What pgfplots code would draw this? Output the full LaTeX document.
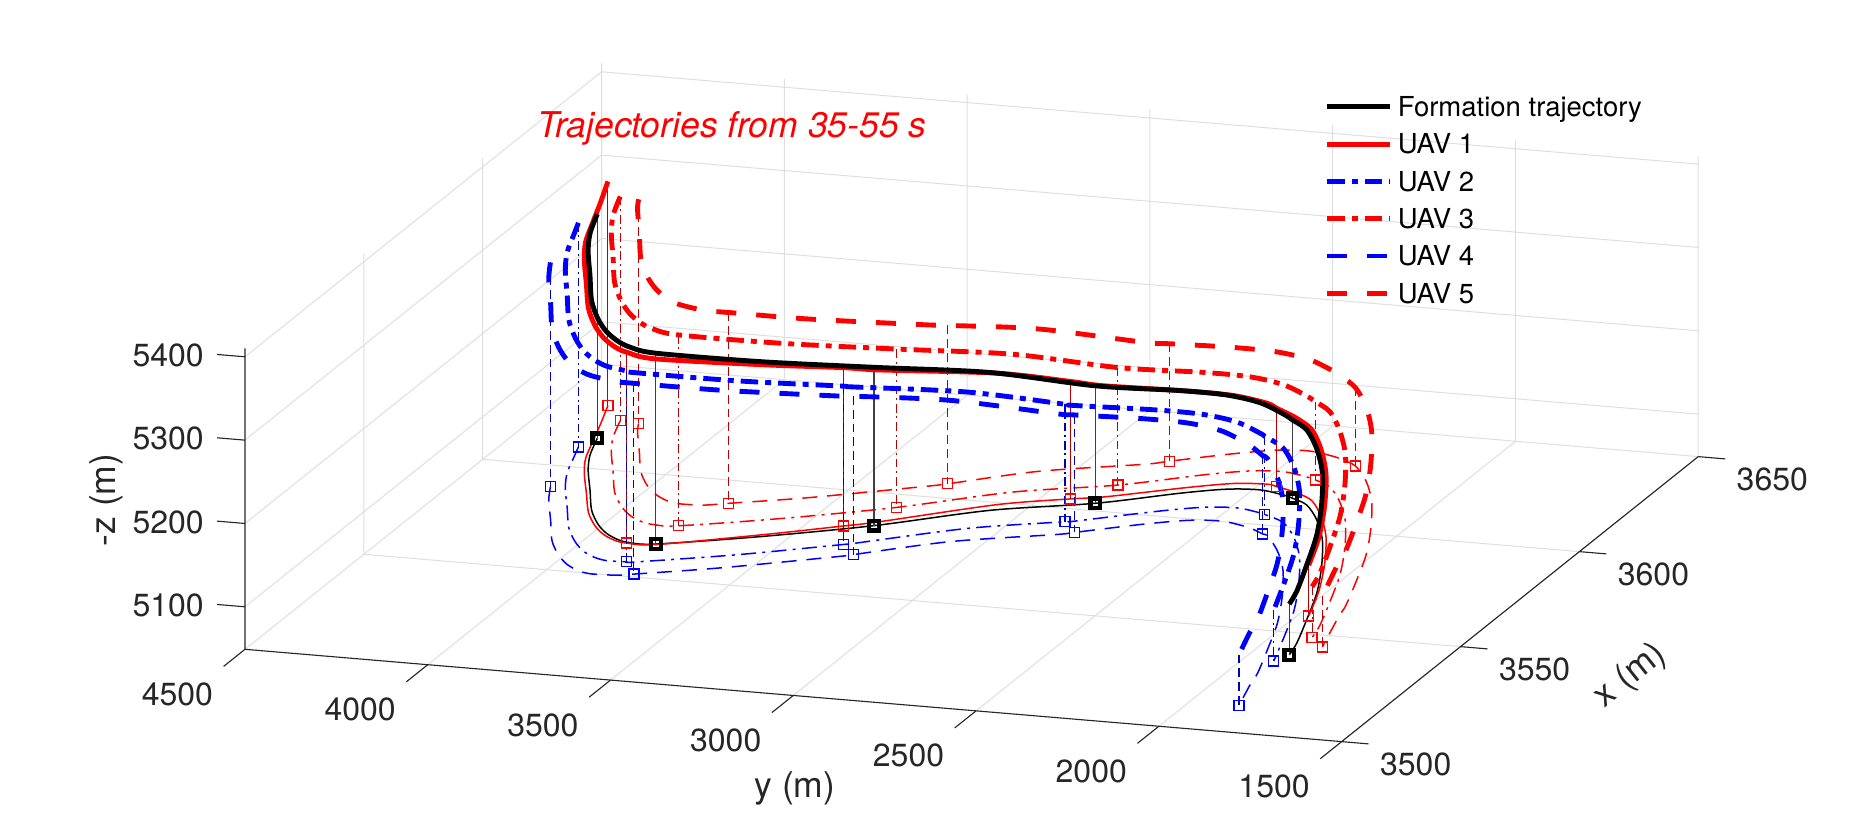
\documentclass[border=0pt]{standalone}
\usepackage{fontspec}
\setmainfont{TeX Gyre Heros}
\usepackage{pgfplots}
\usepackage{pgfplotstable}
\pgfplotsset{compat=1.18}
\usetikzlibrary{calc}
\definecolor{axcol}{rgb}{0.15,0.15,0.15}
\definecolor{gridcol}{rgb}{0.87,0.87,0.87}
\definecolor{dred}{rgb}{0.72,0,0}
\definecolor{dblue}{rgb}{0,0,0.72}
\newcommand{\tickfont}{\fontsize{12.8}{15}\selectfont}
\newcommand{\labfont}{\fontsize{14.2}{17}\selectfont}
\newcommand{\legfont}{\fontsize{11}{13}\selectfont}
\tikzset{
 thk/.style={line width=1.95pt,line join=round},
 dsh/.style={dash pattern=on 8pt off 8pt},
 dsd/.style={dash pattern=on 7pt off 2.8pt on 2.4pt off 2.8pt},
 thn/.style={line width=0.6pt,line join=round},
 tdsh/.style={dash pattern=on 6pt off 4pt},
 tdsd/.style={dash pattern=on 6pt off 2.5pt on 1.2pt off 2.5pt},
 drp/.style={line width=0.42pt},
 ddsh/.style={dash pattern=on 3.5pt off 2pt},
 ddsd/.style={dash pattern=on 3.5pt off 1.5pt on 0.8pt off 1.5pt},
 tlab/.style={inner sep=0pt,text=axcol,font=\tickfont},
}
% ---------- trajectories: x y z, and floor zf ----------
\pgfplotstableread{
x y z zf
3614.6 4281.5 5318 5049
3606.4 4247.9 5315.1 5049
3599.1 4205.7 5311.5 5049
3589.7 4139.5 5305.9 5049
3580.2 4073.4 5300.3 5049
3573.8 4014.5 5295.3 5049
3569.7 3964.1 5291.0 5049
3567.2 3917.0 5287.1 5049
3566.2 3877.4 5283.7 5049
3566.6 3808.9 5278 5049
3574.3 3574.2 5259.0 5049
3584.1 3326.2 5239 5049
3596.0 3087.5 5214.5 5049
3603.6 2847.9 5190 5049
3611.8 2669.3 5172.2 5049
3615.6 2566.1 5162.0 5049
3616.6 2481.5 5153.6 5049
3615.1 2408.4 5146.3 5049
3613.9 2374.9 5143 5049
3611.3 2319.5 5139.2 5049
3604.6 2248.3 5134.3 5049
3595.3 2172.5 5129.1 5049
3582.5 2091.4 5123.5 5049
3569.7 2021.4 5118.7 5049
3556.5 1963.4 5114.6 5049
3545.1 1916.1 5111.3 5049
3539.2 1898.2 5110 5049
}\tF
\pgfplotstableread{
x y z zf
3630.6 4356.5 5318 5049
3621.6 4318.0 5314.9 5049
3612.7 4282.0 5311.7 5049
3604.6 4248.3 5308.8 5049
3597.5 4205.9 5305.2 5049
3588.2 4139.7 5299.6 5049
3578.9 4073.5 5294.0 5049
3572.7 4014.6 5289.0 5049
3568.8 3964.1 5284.7 5049
3566.5 3917.0 5280.8 5049
3565.9 3883.9 5278 5049
3566.3 3808.9 5271.9 5049
3575.3 3574.2 5253.0 5049
3582.7 3401.1 5239 5049
3586.1 3326.2 5231.3 5049
3599.0 3087.5 5206.8 5049
3604.7 2922.9 5190 5049
3606.9 2847.9 5182.6 5049
3614.8 2669.3 5164.8 5049
3618.6 2566.1 5154.5 5049
3619.6 2481.5 5146.1 5049
3618.8 2449.9 5143 5049
3617.6 2408.4 5140.2 5049
3616.4 2374.9 5137.9 5049
3613.5 2319.4 5134.1 5049
3606.4 2248.1 5129.2 5049
3596.8 2172.3 5124.0 5049
3583.7 2091.2 5118.4 5049
3570.5 2021.2 5113.6 5049
3558.5 1970.7 5110 5049
}\tA
\pgfplotstableread{
x y z zf
3609.7 4301.3 5318 5049
3605.4 4283.8 5316.5 5049
3597.1 4249.8 5313.6 5049
3589.7 4207.1 5310.0 5049
3580.3 4140.8 5304.4 5049
3570.8 4074.6 5298.8 5049
3564.4 4015.4 5293.8 5049
3560.2 3964.8 5289.5 5049
3557.7 3917.4 5285.6 5049
3556.7 3877.5 5282.2 5049
3557.0 3826.7 5278 5049
3557.1 3808.6 5276.5 5049
3564.8 3573.9 5257.6 5049
3573.9 3343.8 5239 5049
3574.6 3325.8 5237.2 5049
3586.5 3087.1 5212.7 5049
3593.6 2865.5 5190 5049
3594.1 2847.5 5188.2 5049
3602.3 2668.9 5170.5 5049
3606.1 2565.9 5160.2 5049
3607.1 2481.5 5151.8 5049
3605.6 2408.6 5144.5 5049
3605.0 2393.2 5143 5049
3604.4 2375.3 5141.8 5049
3601.8 2320.2 5138.0 5049
3595.2 2249.3 5133.1 5049
3585.9 2173.8 5127.9 5049
3573.1 2093.0 5122.3 5049
3560.4 2023.3 5117.5 5049
3547.3 1965.6 5113.4 5049
3535.7 1917.8 5110 5049
}\tB
\pgfplotstableread{
x y z zf
3623.9 4279.2 5318 5049
3615.8 4246.0 5315.1 5049
3608.6 4204.2 5311.5 5049
3599.2 4138.1 5305.9 5049
3589.7 4072.2 5300.3 5049
3583.4 4013.6 5295.3 5049
3579.3 3963.4 5291.0 5049
3576.8 3916.6 5287.1 5049
3575.8 3877.3 5283.7 5049
3576.2 3809.2 5278 5049
3583.9 3574.6 5259.0 5049
3593.7 3326.6 5239 5049
3605.6 3087.9 5214.5 5049
3613.2 2848.3 5190 5049
3621.4 2669.7 5172.2 5049
3625.2 2566.4 5162.0 5049
3626.2 2481.5 5153.6 5049
3624.7 2408.2 5146.3 5049
3623.5 2374.5 5143 5049
3620.9 2318.8 5139.2 5049
3614.1 2247.3 5134.3 5049
3604.8 2171.2 5129.1 5049
3592.0 2089.8 5123.5 5049
3579.1 2019.5 5118.7 5049
3565.9 1961.2 5114.6 5049
3554.4 1913.6 5111.3 5049
3548.4 1895.6 5110 5049
}\tC
\pgfplotstableread{
x y z zf
3589.7 4247.8 5318 5049
3582.9 4208.2 5314.7 5049
3573.5 4141.8 5309.1 5049
3563.9 4075.5 5303.5 5049
3557.5 4016.1 5298.5 5049
3553.3 3965.2 5294.2 5049
3550.8 3917.7 5290.3 5049
3549.8 3877.5 5286.9 5049
3550.2 3808.5 5281.2 5049
3551.4 3770.4 5278 5049
3557.9 3573.6 5262.1 5049
3567.7 3325.5 5242.1 5049
3569.5 3287.6 5239 5049
3579.6 3086.8 5218.4 5049
3587.2 2847.2 5193.9 5049
3588.9 2809.3 5190 5049
3595.4 2668.6 5176.0 5049
3599.2 2565.7 5165.8 5049
3600.2 2481.6 5157.4 5049
3598.7 2408.8 5150.1 5049
3597.5 2375.6 5146.8 5049
3595.7 2338.0 5143 5049
3595.0 2320.7 5141.8 5049
3588.3 2250.1 5136.9 5049
3579.1 2174.8 5131.7 5049
3566.3 2094.1 5126.1 5049
3553.6 2024.7 5121.3 5049
3540.5 1967.1 5117.2 5049
3529.3 1920.3 5113.9 5049
3523.4 1902.6 5112.6 5049
3513.1 1866.0 5110 5049
}\tD
\pgfplotstableread{
x y z zf
3623.3 4225.1 5318 5049
3619.4 4202.6 5316.0 5049
3610.0 4136.6 5310.4 5049
3600.5 4070.8 5304.8 5049
3594.2 4012.5 5299.8 5049
3590.2 3962.7 5295.6 5049
3587.7 3916.2 5291.6 5049
3586.7 3877.3 5288.3 5049
3587.1 3809.5 5282.5 5049
3588.9 3755.5 5278 5049
3594.8 3574.9 5263.4 5049
3604.6 3327.0 5243.4 5049
3607.0 3273.1 5239 5049
3616.5 3088.3 5220.0 5049
3624.1 2848.8 5195.5 5049
3626.6 2794.9 5190 5049
3632.3 2670.2 5177.6 5049
3636.1 2566.6 5167.3 5049
3637.1 2481.4 5158.9 5049
3635.6 2407.9 5151.7 5049
3634.4 2374.0 5148.4 5049
3631.8 2319.5 5143 5049
3625.0 2246.1 5138.0 5049
3615.6 2169.7 5132.8 5049
3602.7 2088.0 5127.2 5049
3589.8 2017.3 5122.4 5049
3576.5 1958.7 5118.3 5049
3564.9 1910.9 5115.0 5049
3558.9 1892.7 5113.7 5049
3544.3 1840.7 5110 5049
}\tE
% ---------- sample instants (35,39,43,47,51,55 s) ----------
\pgfplotstableread{
x y z zf
3614.6 4281.5 5318 5049
3566.6 3808.9 5278 5049
3584.1 3326.2 5239 5049
3603.6 2847.9 5190 5049
3613.9 2374.9 5143 5049
3539.2 1898.2 5110 5049
}\mF
\pgfplotstableread{
x y z zf
3630.6 4356.5 5318 5049
3565.9 3883.9 5278 5049
3582.7 3401.1 5239 5049
3604.7 2922.9 5190 5049
3618.8 2449.9 5143 5049
3558.5 1970.7 5110 5049
}\mA
\pgfplotstableread{
x y z zf
3609.7 4301.3 5318 5049
3557.0 3826.7 5278 5049
3573.9 3343.8 5239 5049
3593.6 2865.5 5190 5049
3605.0 2393.2 5143 5049
3535.7 1917.8 5110 5049
}\mB
\pgfplotstableread{
x y z zf
3623.9 4279.2 5318 5049
3576.2 3809.2 5278 5049
3593.7 3326.6 5239 5049
3613.2 2848.3 5190 5049
3623.5 2374.5 5143 5049
3548.4 1895.6 5110 5049
}\mC
\pgfplotstableread{
x y z zf
3589.7 4247.8 5318 5049
3551.4 3770.4 5278 5049
3569.5 3287.6 5239 5049
3588.9 2809.3 5190 5049
3595.7 2338.0 5143 5049
3513.1 1866.0 5110 5049
}\mD
\pgfplotstableread{
x y z zf
3623.3 4225.1 5318 5049
3588.9 3755.5 5278 5049
3607.0 3273.1 5239 5049
3626.6 2794.9 5190 5049
3631.8 2319.5 5143 5049
3544.3 1840.7 5110 5049
}\mE
% ---------- vertical drop lines ----------
\pgfplotstableread{
x y z
3614.6 4281.5 5318
3614.6 4281.5 5049
nan nan nan
3566.6 3808.9 5278
3566.6 3808.9 5049
nan nan nan
3584.1 3326.2 5239
3584.1 3326.2 5049
nan nan nan
3603.6 2847.9 5190
3603.6 2847.9 5049
nan nan nan
3613.9 2374.9 5143
3613.9 2374.9 5049
nan nan nan
3539.2 1898.2 5110
3539.2 1898.2 5049
}\dF
\pgfplotstableread{
x y z
3630.6 4356.5 5318
3630.6 4356.5 5049
nan nan nan
3565.9 3883.9 5278
3565.9 3883.9 5049
nan nan nan
3582.7 3401.1 5239
3582.7 3401.1 5049
nan nan nan
3604.7 2922.9 5190
3604.7 2922.9 5049
nan nan nan
3618.8 2449.9 5143
3618.8 2449.9 5049
nan nan nan
3558.5 1970.7 5110
3558.5 1970.7 5049
}\dA
\pgfplotstableread{
x y z
3609.7 4301.3 5318
3609.7 4301.3 5049
nan nan nan
3557.0 3826.7 5278
3557.0 3826.7 5049
nan nan nan
3573.9 3343.8 5239
3573.9 3343.8 5049
nan nan nan
3593.6 2865.5 5190
3593.6 2865.5 5049
nan nan nan
3605.0 2393.2 5143
3605.0 2393.2 5049
nan nan nan
3535.7 1917.8 5110
3535.7 1917.8 5049
}\dB
\pgfplotstableread{
x y z
3623.9 4279.2 5318
3623.9 4279.2 5049
nan nan nan
3576.2 3809.2 5278
3576.2 3809.2 5049
nan nan nan
3593.7 3326.6 5239
3593.7 3326.6 5049
nan nan nan
3613.2 2848.3 5190
3613.2 2848.3 5049
nan nan nan
3623.5 2374.5 5143
3623.5 2374.5 5049
nan nan nan
3548.4 1895.6 5110
3548.4 1895.6 5049
}\dC
\pgfplotstableread{
x y z
3589.7 4247.8 5318
3589.7 4247.8 5049
nan nan nan
3551.4 3770.4 5278
3551.4 3770.4 5049
nan nan nan
3569.5 3287.6 5239
3569.5 3287.6 5049
nan nan nan
3588.9 2809.3 5190
3588.9 2809.3 5049
nan nan nan
3595.7 2338.0 5143
3595.7 2338.0 5049
nan nan nan
3513.1 1866.0 5110
3513.1 1866.0 5049
}\dD
\pgfplotstableread{
x y z
3623.3 4225.1 5318
3623.3 4225.1 5049
nan nan nan
3588.9 3755.5 5278
3588.9 3755.5 5049
nan nan nan
3607.0 3273.1 5239
3607.0 3273.1 5049
nan nan nan
3626.6 2794.9 5190
3626.6 2794.9 5049
nan nan nan
3631.8 2319.5 5143
3631.8 2319.5 5049
nan nan nan
3544.3 1840.7 5110
3544.3 1840.7 5049
}\dE
\begin{document}
\begin{tikzpicture}
\begin{axis}[
  hide axis, clip=false,
  x={(0.95093pt,0.76pt)}, y={(-0.146227pt,0.01232pt)}, z={(0pt,0.33333pt)},
  xmin=3500,xmax=3650,ymin=1500,ymax=4500,zmin=5049,zmax=5410,
  unbounded coords=jump,
]
% grid
\pgfplotsinvokeforeach{1500,2000,2500,3000,3500,4000,4500}{
  \draw[gridcol,line width=0.4pt] (axis cs:3500,#1,5049) -- (axis cs:3650,#1,5049) -- (axis cs:3650,#1,5410);
}
\pgfplotsinvokeforeach{3550,3600,3650}{
  \draw[gridcol,line width=0.4pt] (axis cs:#1,1500,5049) -- (axis cs:#1,4500,5049) -- (axis cs:#1,4500,5410);
}
\pgfplotsinvokeforeach{5100,5200,5300,5400}{
  \draw[gridcol,line width=0.4pt] (axis cs:3500,4500,#1) -- (axis cs:3650,4500,#1) -- (axis cs:3650,1500,#1);
}
% axes
\draw[axcol,line width=0.45pt] (axis cs:3500,1500,5049) -- (axis cs:3500,4500,5049) -- (axis cs:3500,4500,5410);
\draw[axcol,line width=0.45pt] (axis cs:3500,1500,5049) -- (axis cs:3650,1500,5049);
\pgfplotsinvokeforeach{1500,2000,2500,3000,3500,4000,4500}{
  \draw[axcol,line width=0.45pt] (axis cs:3500,#1,5049) -- (axis cs:3491,#1,5049);
  \node[tlab,anchor=base east,xshift=-12.6pt,yshift=-22.4pt] at (axis cs:3500,#1,5049) {#1};
}
\pgfplotsinvokeforeach{3500,3550,3600,3650}{
  \draw[axcol,line width=0.45pt] (axis cs:#1,1500,5049) -- (axis cs:#1,1426,5049);
  \node[tlab,anchor=base west,xshift=15.2pt,yshift=-13.6pt] at (axis cs:#1,1500,5049) {#1};
}
\pgfplotsinvokeforeach{5100,5200,5300,5400}{
  \draw[axcol,line width=0.45pt] (axis cs:3500,4500,#1) -- (axis cs:3500,4576,#1);
  \node[tlab,anchor=base east,xshift=-16.3pt,yshift=-3.9pt] at (axis cs:3500,4500,#1) {#1};
}
% floor projections
\addplot3[thn,black,smooth] table[x=x,y=y,z=zf] {\tF};
\addplot3[thn,red,smooth] table[x=x,y=y,z=zf] {\tA};
\addplot3[thn,blue,tdsd,smooth] table[x=x,y=y,z=zf] {\tB};
\addplot3[thn,red,tdsd,smooth] table[x=x,y=y,z=zf] {\tC};
\addplot3[thn,blue,tdsh,smooth] table[x=x,y=y,z=zf] {\tD};
\addplot3[thn,red,tdsh,smooth] table[x=x,y=y,z=zf] {\tE};
% drop lines
\addplot3[drp,black!75] table[x=x,y=y,z=z] {\dF};
\addplot3[drp,dred] table[x=x,y=y,z=z] {\dA};
\addplot3[drp,dblue,ddsd] table[x=x,y=y,z=z] {\dB};
\addplot3[drp,dred,ddsd] table[x=x,y=y,z=z] {\dC};
\addplot3[drp,dblue,ddsh] table[x=x,y=y,z=z] {\dD};
\addplot3[drp,dred,ddsh] table[x=x,y=y,z=z] {\dE};
% markers on the floor
\addplot3[only marks,mark=square,red,mark size=2pt,mark options={solid,line width=0.5pt}] table[x=x,y=y,z=zf] {\mA};
\addplot3[only marks,mark=square,blue,mark size=2pt,mark options={solid,line width=0.5pt}] table[x=x,y=y,z=zf] {\mB};
\addplot3[only marks,mark=square,red,mark size=2pt,mark options={solid,line width=0.5pt}] table[x=x,y=y,z=zf] {\mC};
\addplot3[only marks,mark=square,blue,mark size=2pt,mark options={solid,line width=0.5pt}] table[x=x,y=y,z=zf] {\mD};
\addplot3[only marks,mark=square,red,mark size=2pt,mark options={solid,line width=0.5pt}] table[x=x,y=y,z=zf] {\mE};
\addplot3[only marks,mark=square,black,mark size=1.9pt,mark options={solid,line width=1.7pt}] table[x=x,y=y,z=zf] {\mF};
% 3-D trajectories
\addplot3[thk,red,dsh,smooth] table[x=x,y=y,z=z] {\tE};
\addplot3[thk,red,dsd,smooth] table[x=x,y=y,z=z] {\tC};
\addplot3[thk,red,smooth] table[x=x,y=y,z=z] {\tA};
\addplot3[thk,black,smooth] table[x=x,y=y,z=z] {\tF};
\addplot3[thk,blue,dsd,smooth] table[x=x,y=y,z=z] {\tB};
\addplot3[thk,blue,dsh,smooth] table[x=x,y=y,z=z] {\tD};
\coordinate (c0) at (axis cs:3500,4500,5049);
\end{axis}
% axis labels and title
\node[rotate=90,inner sep=0pt,text=axcol,font=\labfont] at ($(c0)+(-55.6pt,59.7pt)$) {-z (m)};
\node[inner sep=0pt,text=axcol,font=\labfont] at ($(c0)+(220pt,-55.5pt)$) {y (m)};
\node[rotate=38.6,inner sep=0pt,text=axcol,font=\labfont] at ($(c0)+(554.3pt,-10.6pt)$) {x (m)};
\node[anchor=base west,inner sep=0pt,text=red,font=\labfont\itshape] at ($(c0)+(116.7pt,204.6pt)$) {Trajectories from 35-55 s};
% legend
\draw[thk,black] ($(c0)+(432.9pt,217pt)$) -- ++(25.1pt,0);
\draw[thk,red] ($(c0)+(432.9pt,202.08pt)$) -- ++(25.1pt,0);
\draw[thk,blue,dsd] ($(c0)+(432.9pt,187.16pt)$) -- ++(25.1pt,0);
\draw[thk,red,dsd] ($(c0)+(432.9pt,172.24pt)$) -- ++(25.1pt,0);
\draw[thk,blue,dsh] ($(c0)+(432.9pt,157.32pt)$) -- ++(25.1pt,0);
\draw[thk,red,dsh] ($(c0)+(432.9pt,142.4pt)$) -- ++(25.1pt,0);
\node[anchor=base west,inner sep=0pt,font=\legfont] at ($(c0)+(460.9pt,213.08pt)$) {Formation trajectory};
\node[anchor=base west,inner sep=0pt,font=\legfont] at ($(c0)+(460.9pt,198.16pt)$) {UAV 1};
\node[anchor=base west,inner sep=0pt,font=\legfont] at ($(c0)+(460.9pt,183.24pt)$) {UAV 2};
\node[anchor=base west,inner sep=0pt,font=\legfont] at ($(c0)+(460.9pt,168.32pt)$) {UAV 3};
\node[anchor=base west,inner sep=0pt,font=\legfont] at ($(c0)+(460.9pt,153.4pt)$) {UAV 4};
\node[anchor=base west,inner sep=0pt,font=\legfont] at ($(c0)+(460.9pt,138.48pt)$) {UAV 5};
\pgfresetboundingbox
\path ($(c0)+(-98pt,-73.48pt)$) rectangle ++(750pt,333.2pt);
\end{tikzpicture}
\end{document}
